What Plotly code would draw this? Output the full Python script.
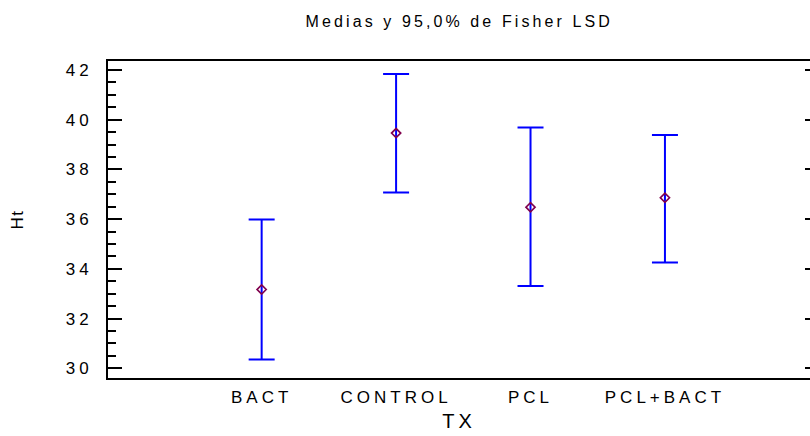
import plotly.graph_objects as go

categories = ["BACT", "CONTROL", "PCL", "PCL+BACT"]
means = [33.17, 39.46, 36.48, 36.86]
upper = [35.99, 41.84, 39.69, 39.38]
lower = [30.35, 37.07, 33.31, 34.26]
y_ticks = [30, 32, 34, 36, 38, 40, 42]
title_text = "Medias y 95,0% de Fisher LSD"
x_title = "TX"
y_title = "Ht"

x_pos = list(range(len(categories)))
err_plus = [u - m for u, m in zip(upper, means)]
err_minus = [m - l for m, l in zip(means, lower)]

FONT = "Liberation Sans, Arial, sans-serif"


def sp(t, s=4):
    return f'<span style="letter-spacing:{s}px">{t}</span>'


fig = go.Figure()
fig.add_trace(go.Scatter(
    x=x_pos, y=means, mode="markers",
    marker=dict(symbol="diamond-open", size=7, color="#80004d",
                line=dict(width=1.7, color="#80004d")),
    error_y=dict(type="data", symmetric=False, array=err_plus, arrayminus=err_minus,
                 color="#0000ff", thickness=2, width=13),
    showlegend=False,
))
fig.add_trace(go.Scatter(x=[None], y=[None], yaxis="y2", showlegend=False))

yr = [29.61, 42.36]
fig.update_layout(
    width=810, height=436,
    margin=dict(l=108, r=0, t=61, b=58),
    paper_bgcolor="white", plot_bgcolor="white",
    font=dict(family=FONT, size=17, color="black"),
    title=dict(text=sp(title_text, 3.1), x=0.567, xanchor="center",
               y=1 - 21 / 436, yanchor="middle", font=dict(size=16)),
    xaxis=dict(range=[-1.143, 4.079], tickvals=x_pos,
               ticktext=[sp(c) for c in categories],
               showgrid=False, zeroline=False, showline=True, linecolor="black",
               linewidth=2, mirror=True, ticks="", ticklabelstandoff=3,
               title=dict(text=sp(x_title), standoff=8)),
    yaxis=dict(range=yr, tickvals=y_ticks, ticktext=[sp(str(v)) for v in y_ticks],
               showgrid=False, zeroline=False,
               showline=True, linecolor="black", linewidth=2, ticks="inside",
               ticklen=14, tickwidth=2, tickcolor="black", ticklabelstandoff=10,
               minor=dict(dtick=0.5, tick0=30, ticks="inside", ticklen=8, tickwidth=2,
                          tickcolor="black", showgrid=False),
               title=dict(text=sp(y_title, 1.5), standoff=38, font=dict(size=17))),
    yaxis2=dict(range=yr, overlaying="y", side="right", anchor="x",
                tickvals=y_ticks, showticklabels=False,
                ticks="inside", ticklen=5, tickwidth=2, tickcolor="black",
                showgrid=False, zeroline=False, showline=False),
)
fig.write_html("out.html")
